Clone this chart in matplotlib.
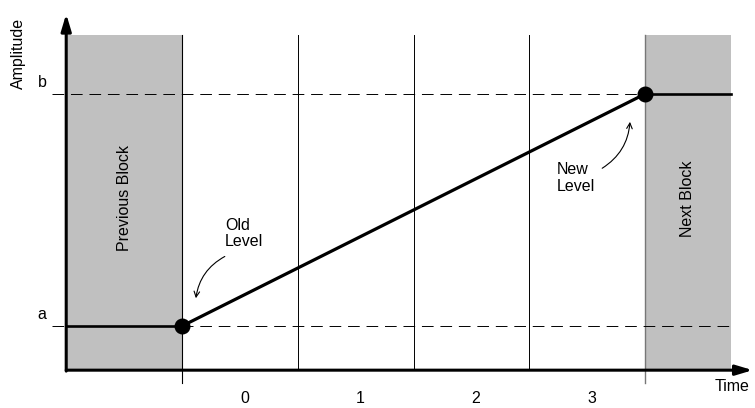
import matplotlib.pyplot as plt

plt.rcParams['font.family'] = ['Liberation Sans', 'DejaVu Sans']

# time slots between the two blocks, and the two amplitude levels
slots = [0, 1, 2, 3]
slot_labels = ['0', '1', '2', '3']
level_a = 0.0
level_b = 1.0
ramp_t = [0, 4]
ramp_amp = [level_a, level_b]
block_labels = ['Previous Block', 'Next Block']

# layout (data units)
x_axis_y = -0.19
top = 1.254
left_edge = -1.0
right_edge = 4.74
fs = 11.5

fig = plt.figure(figsize=(7.55, 4.08), dpi=100)
ax = fig.add_axes([0, 0, 1, 1])
ax.set_xlim(-1.572, 4.950)
ax.set_ylim(-0.353, 1.405)
ax.axis('off')

gray = '#c0c0c0'
# blocks
ax.fill_between([left_edge, 0], x_axis_y, top, color=gray, lw=0, zorder=1)
ax.fill_between([4, right_edge], x_axis_y, top, color=gray, lw=0, zorder=1)
ax.text(-0.5, 0.55, block_labels[0], rotation=90, ha='center', va='center', fontsize=fs)
ax.text(4.37, 0.55, block_labels[1], rotation=90, ha='center', va='center', fontsize=fs)

# slot separators
for t in [1, 2, 3]:
    ax.plot([t, t], [x_axis_y, top], color='black', lw=0.7, zorder=2)
ax.plot([0, 0], [-0.246, top], color='black', lw=0.8, zorder=2)
ax.plot([4, 4], [-0.246, top], color='#777777', lw=1.0, zorder=2)

# dashed level lines
for lev in [level_a, level_b]:
    ax.plot([-1.12, right_edge], [lev, lev], color='black', lw=0.7,
            linestyle=(0, (12, 7)), zorder=2)

# solid levels outside the transition
ax.plot([left_edge, 0], [level_a, level_a], color='black', lw=1.9, zorder=3)
ax.plot([4, right_edge], [level_b, level_b], color='black', lw=1.9, zorder=3)

# ramp
ax.plot(ramp_t, ramp_amp, color='black', lw=2.3, zorder=3)
ax.scatter(ramp_t, ramp_amp, s=110, color='black', zorder=4)

# axes with arrows
ax.annotate('', xy=(4.93, x_axis_y), xytext=(-1.0, x_axis_y),
            arrowprops=dict(arrowstyle='-|>,head_length=1.0,head_width=0.3',
                            color='black', lw=2.2, shrinkA=0, shrinkB=0), zorder=5)
ax.annotate('', xy=(left_edge, 1.345), xytext=(left_edge, x_axis_y - 0.004),
            arrowprops=dict(arrowstyle='-|>,head_length=1.0,head_width=0.3',
                            color='black', lw=2.2, shrinkA=0, shrinkB=0), zorder=5)

ax.text(-1.415, 1.175, 'Amplitude', rotation=90, ha='center', va='center', fontsize=fs)
ax.text(4.6, -0.262, 'Time', ha='left', va='center', fontsize=fs)
ax.text(-1.21, level_b + 0.05, 'b', ha='center', va='center', fontsize=fs)
ax.text(-1.21, level_a + 0.05, 'a', ha='center', va='center', fontsize=fs)

for t, lab in zip(slots, slot_labels):
    ax.text(t + 0.54, -0.312, lab, ha='center', va='center', fontsize=fs)

# annotations
ax.text(0.37, 0.465, 'Old\nLevel', ha='left', va='top', fontsize=fs, linespacing=1.1)
ax.annotate('', xy=(0.12, 0.12), xytext=(0.37, 0.30),
            arrowprops=dict(arrowstyle='->', color='black', lw=0.8,
                            connectionstyle='arc3,rad=0.25', shrinkA=0, shrinkB=0))
ax.text(3.24, 0.705, 'New\nLevel', ha='left', va='top', fontsize=fs, linespacing=1.1)
ax.annotate('', xy=(3.87, 0.88), xytext=(3.63, 0.68),
            arrowprops=dict(arrowstyle='->', color='black', lw=0.8,
                            connectionstyle='arc3,rad=0.25', shrinkA=0, shrinkB=0))

fig.savefig('out.png', dpi=100)
